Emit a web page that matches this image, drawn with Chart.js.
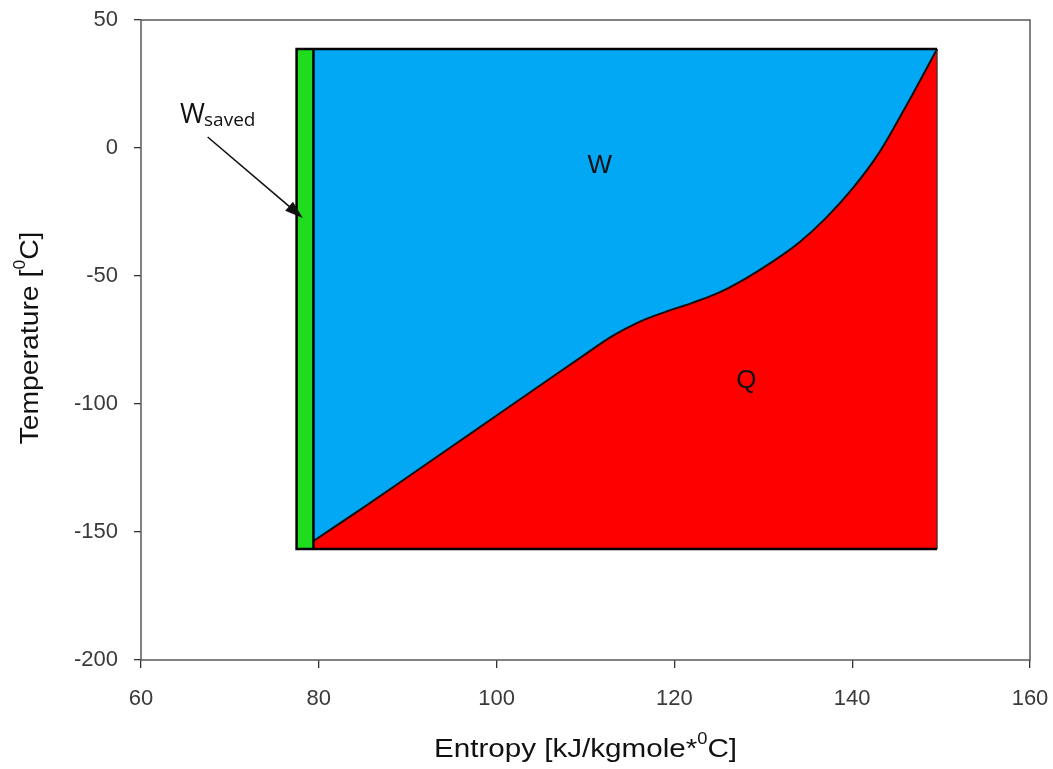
<!DOCTYPE html>
<html>
<head>
<meta charset="utf-8">
<script src="https://cdn.jsdelivr.net/npm/chart.js@4/dist/chart.umd.min.js"></script>
<style>
  html, body { margin: 0; padding: 0; background: #fff; }
</style>
</head>
<body>
<canvas id="chart" width="1053" height="769"></canvas>
<script>
// Boundary between W (above) and Q (below)
const entropy = [79.4, 85, 90, 95, 100, 105, 110, 113, 116, 119, 122, 125, 128, 131, 134, 137, 140, 143, 146, 149.55];
const temperature = [-153.5, -140.5, -128.5, -116.5, -104.5, -92.5, -80.5, -73.5, -68, -64, -60.5, -56.5, -51, -44.5, -37, -27.5, -16, -2, 16, 38.7];

// Cycle box: green strip left / right edge, box right edge
const boxEntropy = [77.5, 79.4, 149.55];
// Box bottom / top
const boxTemperature = [-156.6, 38.7];

// Axis ranges and tick steps
const xRange = [60, 160];
const yRange = [-200, 50];
const xStep = 20;
const yStep = 50;

// Region labels
const regionLabels = ['W', 'Q'];
const regionEntropy = [111.6, 128.1];
const regionTemperature = [-7.0, -91.0];

// W_saved note and its arrow (start, tip)
const noteEntropy = [64.4, 67.5, 78.2];
const noteTemperature = [9.8, 4.3, -27.3];

const BLUE = '#03a8f4';
const RED = '#ff0000';
const GREEN = '#1fdc1f';
const FONT = '"Liberation Sans", Arial, sans-serif';

const [sLeft, sRight, bRight] = boxEntropy;
const [tBottom, tTop] = boxTemperature;

function pts(xs, ys) {
  return xs.map((x, i) => ({ x, y: ys[i] }));
}

// Draw a run of text pieces (some superscript), optionally squeezed to a width
function drawRich(ctx, parts, size, fitWidth) {
  const widths = parts.map(p => {
    ctx.font = (p.sup ? size * p.scale : size) + 'px ' + FONT;
    return ctx.measureText(p.t).width;
  });
  const total = widths.reduce((a, b) => a + b, 0);
  const sx = fitWidth ? fitWidth / total : 1;
  ctx.save();
  ctx.scale(sx, 1);
  let x = -total / 2;
  parts.forEach((p, i) => {
    ctx.font = (p.sup ? size * p.scale : size) + 'px ' + FONT;
    ctx.fillText(p.t, x, p.sup ? -size * 0.42 : 0);
    x += widths[i];
  });
  ctx.restore();
}

const decorations = {
  id: 'decorations',
  afterDatasetsDraw(chart) {
    const { ctx, chartArea: a, scales: { x, y } } = chart;
    ctx.save();

    // plot frame
    ctx.strokeStyle = '#5a5a5a';
    ctx.lineWidth = 1.5;
    ctx.strokeRect(a.left, a.top, a.right - a.left, a.bottom - a.top);

    // W / Q
    ctx.fillStyle = '#111';
    ctx.textAlign = 'left';
    ctx.textBaseline = 'middle';
    regionLabels.forEach((t, i) => {
      ctx.save();
      ctx.translate(x.getPixelForValue(regionEntropy[i]), y.getPixelForValue(regionTemperature[i]));
      drawRich(ctx, [{ t }], 26);
      ctx.restore();
    });

    // W_saved
    ctx.textBaseline = 'alphabetic';
    const nx = x.getPixelForValue(noteEntropy[0]);
    const ny = y.getPixelForValue(noteTemperature[0]);
    ctx.font = '27px "Open Sans", sans-serif';
    ctx.fillText('W', nx, ny);
    const ww = ctx.measureText('W').width;
    ctx.font = '19px "Open Sans", sans-serif';
    ctx.fillText('saved', nx + ww - 1, ny + 3);

    // arrow to the green strip
    const x0 = x.getPixelForValue(noteEntropy[1]);
    const y0 = y.getPixelForValue(noteTemperature[1]);
    const x1 = x.getPixelForValue(noteEntropy[2]);
    const y1 = y.getPixelForValue(noteTemperature[2]);
    const ang = Math.atan2(y1 - y0, x1 - x0);
    const head = 18;
    const half = 6;
    const c = Math.cos(ang), s = Math.sin(ang);
    ctx.strokeStyle = '#111';
    ctx.lineWidth = 1.6;
    ctx.beginPath();
    ctx.moveTo(x0, y0);
    ctx.lineTo(x1 - c * head * 0.8, y1 - s * head * 0.8);
    ctx.stroke();
    ctx.fillStyle = '#111';
    ctx.beginPath();
    ctx.moveTo(x1, y1);
    ctx.lineTo(x1 - head * c + half * s, y1 - head * s - half * c);
    ctx.lineTo(x1 - head * c - half * s, y1 - head * s + half * c);
    ctx.closePath();
    ctx.fill();

    ctx.restore();
  },
  afterDraw(chart) {
    const { ctx, chartArea: a } = chart;
    ctx.save();
    ctx.fillStyle = '#111';
    ctx.textAlign = 'left';
    ctx.textBaseline = 'middle';

    // x axis title
    ctx.save();
    ctx.translate((a.left + a.right) / 2, 750);
    drawRich(ctx, [
      { t: 'Entropy [kJ/kgmole*' },
      { t: '0', sup: true, scale: 0.62 },
      { t: 'C]' }
    ], 26, 303);
    ctx.restore();

    // y axis title
    ctx.save();
    ctx.translate(31, 338);
    ctx.rotate(-Math.PI / 2);
    drawRich(ctx, [
      { t: 'Temperature [' },
      { t: '0', sup: true, scale: 0.62 },
      { t: 'C]' }
    ], 26, 213);
    ctx.restore();

    ctx.restore();
  }
};

const tickFont = { family: FONT, size: 22 };

new Chart(document.getElementById('chart'), {
  type: 'line',
  data: {
    datasets: [
      {
        // box outline (bottom, left, top)
        data: pts([bRight, sLeft, sLeft, bRight], [tBottom, tBottom, tTop, tTop]),
        borderColor: '#000',
        borderWidth: 2.5,
        fill: false,
        order: 0
      },
      {
        // right edge
        data: pts([bRight, bRight], [tTop, tBottom]),
        borderColor: '#333',
        borderWidth: 1.2,
        fill: false,
        order: 0
      },
      {
        // inner edge of the green strip
        data: pts([sRight, sRight], [tTop, tBottom]),
        borderColor: '#000',
        borderWidth: 2.5,
        fill: false,
        order: 0
      },
      {
        // Q region under the curve
        data: pts(entropy, temperature),
        borderColor: '#111',
        borderWidth: 2,
        backgroundColor: RED,
        fill: { value: tBottom },
        cubicInterpolationMode: 'monotone',
        order: 1
      },
      {
        // W region
        data: pts([sRight, bRight], [tTop, tTop]),
        borderWidth: 0,
        backgroundColor: BLUE,
        fill: { value: tBottom },
        order: 2
      },
      {
        // W saved strip
        data: pts([sLeft, sRight], [tTop, tTop]),
        borderWidth: 0,
        backgroundColor: GREEN,
        fill: { value: tBottom },
        order: 2
      }
    ]
  },
  options: {
    responsive: false,
    animation: false,
    events: [],
    elements: { point: { radius: 0 } },
    layout: { padding: { top: 20, right: 23, left: 0, bottom: 0 } },
    plugins: {
      legend: { display: false },
      tooltip: { enabled: false }
    },
    scales: {
      x: {
        type: 'linear',
        min: xRange[0],
        max: xRange[1],
        ticks: { stepSize: xStep, font: tickFont, color: '#3a3a3a', padding: 18, maxRotation: 0 },
        grid: { drawOnChartArea: false, tickLength: 8, color: '#333', lineWidth: 1.3 },
        border: { display: false },
        afterFit(s) {
          s.height = 109;
          s.paddingLeft = 0;
          s.paddingRight = 0;
        }
      },
      y: {
        min: yRange[0],
        max: yRange[1],
        ticks: { stepSize: yStep, font: tickFont, color: '#3a3a3a', padding: 16 },
        grid: { drawOnChartArea: false, tickLength: 7, color: '#333', lineWidth: 1.3 },
        border: { display: false },
        afterFit(s) {
          s.width = 141;
          s.paddingTop = 0;
          s.paddingBottom = 0;
        }
      }
    }
  },
  plugins: [decorations]
});
</script>
</body>
</html>
